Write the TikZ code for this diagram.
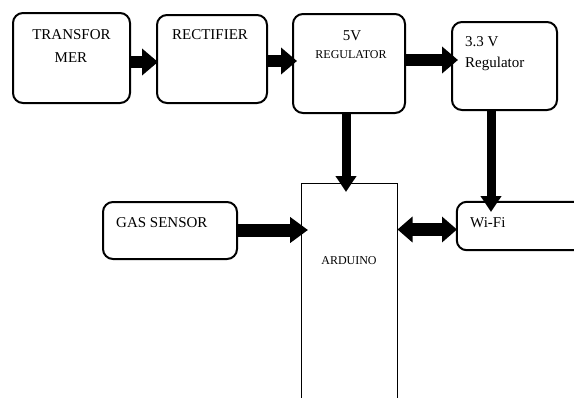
\documentclass[tikz,border=0pt]{standalone}
\usepackage{fontspec}
\setmainfont{Liberation Serif}
\usetikzlibrary{arrows.meta,positioning}
\begin{document}
\begin{tikzpicture}[x=1pt,y=-1pt,
  blk/.style={draw,line width=2pt,rounded corners=10pt,inner sep=0pt},
  lbl/.style={anchor=base,inner sep=0pt,font=\fontsize{15}{18}\selectfont},
  slbl/.style={anchor=base,inner sep=0pt,font=\fontsize{12}{14}\selectfont},
  big/.style={line width=12pt,-{Triangle[width=26pt,length=16pt]}},
  bigv/.style={line width=9pt,-{Triangle[width=20pt,length=16pt]}},
  bigboth/.style={line width=13pt,{Triangle[width=25pt,length=15pt]}-{Triangle[width=25pt,length=15pt]}}
]
\useasboundingbox (0,0) rectangle (574,397);
% boxes
\node[blk,minimum width=117pt,minimum height=90pt] (tr) at (71.5,58) {};
\node[blk,minimum width=110pt,minimum height=88pt] (rec) at (212,59) {};
\node[blk,minimum width=112pt,minimum height=99pt] (r5) at (349,63.5) {};
\node[blk,minimum width=105pt,minimum height=88pt] (r33) at (504.5,66) {};
\node[blk,minimum width=134pt,minimum height=57pt] (gas) at (170,230.5) {};
\node[inner sep=0pt,minimum width=95pt,minimum height=220pt] (ard) at (349.5,294) {};
\draw[line width=0.8pt] (ard.south west) -- (ard.north west) -- (ard.north east) -- (ard.south east);
\node[inner sep=0pt,minimum width=140pt,minimum height=48pt] (wifi) at (527,226) {};
\draw[line width=2pt,rounded corners=10pt] (wifi.north east) -- (wifi.north west) -- (wifi.south west) -- (wifi.south east);
% texts
\node[lbl] (ttr1) at (71.5,39) {TRANSFOR};
\node[lbl] (ttr2) at (71,62) {MER};
\node[lbl] (trec) at (210,39) {RECTIFIER};
\node[lbl] (t5a) at (352,40) {5V};
\node[slbl] (t5b) at (351,58.5) {REGULATOR};
\node[lbl,anchor=base west] (t33a) at (465,46) {3.3 V};
\node[lbl,anchor=base west] (t33b) at (465,67) {Regulator};
\node[lbl,anchor=base west] (tgas) at (116,227) {GAS SENSOR};
\node[lbl,anchor=base west] (twifi) at (470,227) {Wi-Fi};
\node[slbl] (tard) at (349,264) {ARDUINO};
% arrows
\coordinate (a1) at (tr.east |- 0,62);
\coordinate (a1e) at (158,62);
\draw[big] (a1) -- (a1e);
\coordinate (a2) at (rec.east |- 0,61);
\coordinate (a2e) at (297,61);
\draw[big] (a2) -- (a2e);
\coordinate (a3) at (r5.east |- 0,60);
\coordinate (a3e) at (458,60);
\draw[big] (a3) -- (a3e);
\coordinate (a4) at (346,113);
\coordinate (a4e) at (346,192);
\draw[bigv] (a4) -- (a4e);
\coordinate (a5) at (491,110);
\coordinate (a5e) at (491,212);
\draw[bigv] (a5) -- (a5e);
\coordinate (a6) at (gas.east |- 0,230);
\coordinate (a6e) at (308,230);
\draw[line width=13pt,-{Triangle[width=25pt,length=18pt]}] (a6) -- (a6e);
\coordinate (a7) at (397.5,229.5);
\coordinate (a7e) at (457,229.5);
\draw[bigboth] (a7) -- (a7e);
\end{tikzpicture}
\end{document}
